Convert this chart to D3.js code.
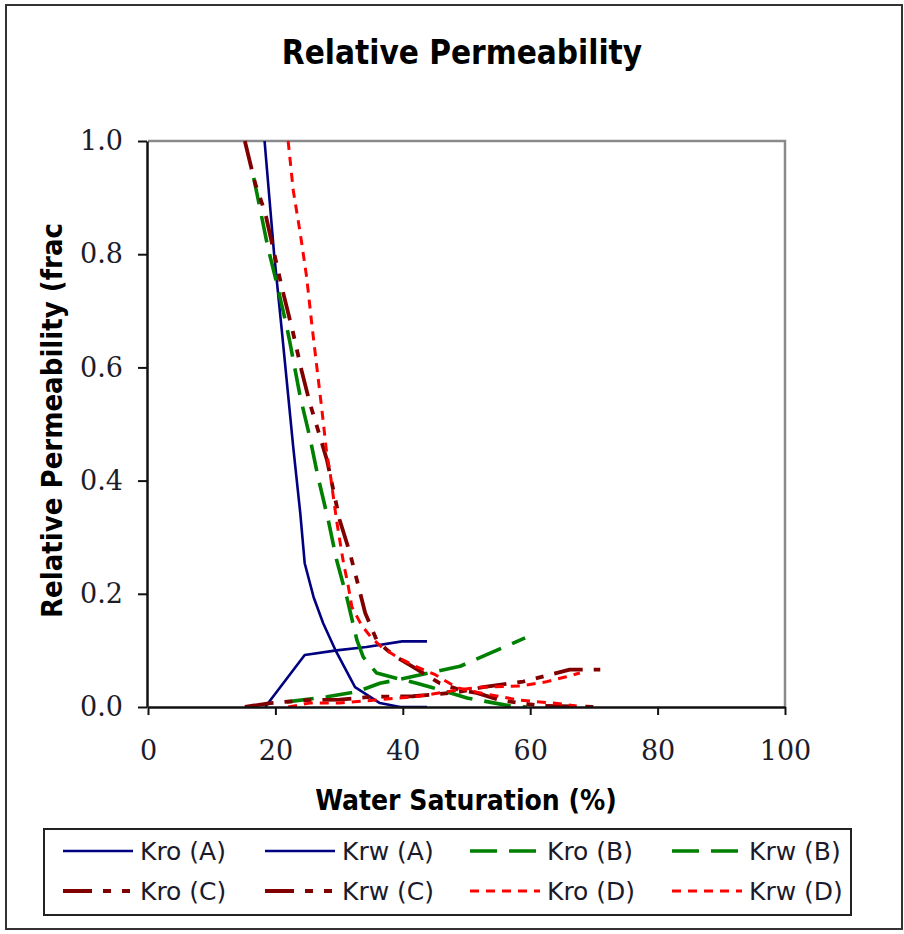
<!DOCTYPE html>
<html>
<head>
<meta charset="utf-8">
<script src="https://cdn.jsdelivr.net/npm/d3@7"></script>
<style>
  html, body { margin: 0; padding: 0; background: #fff; }
  svg { display: block; }
</style>
</head>
<body>
<svg id="chart" width="904" height="934"></svg>
<script>
// ---- Data (Sw in %, kr in fraction) ----
const kroA_sw = [18.3, 19.8, 21.0, 22.8, 23.9, 24.6, 26.0, 27.5, 29.4, 32.5, 36.4, 39.6, 43.8];
const kroA_kr = [1.0, 0.80, 0.666, 0.459, 0.343, 0.254, 0.194, 0.148, 0.101, 0.035, 0.007, 0.0, 0.0];
const krwA_sw = [18.4, 24.6, 29.6, 34.3, 39.9, 43.8];
const krwA_kr = [0.0, 0.092, 0.100, 0.106, 0.116, 0.116];

const kroB_sw = [16.6, 18.8, 20.2, 21.8, 22.3, 23.9, 25.4, 26.7, 28.3, 29.6, 31.2, 32.8, 33.8, 35.9, 39.6, 42.2, 44.7, 50.1, 56.8, 59.5];
const kroB_kr = [0.935, 0.813, 0.749, 0.671, 0.643, 0.548, 0.477, 0.406, 0.330, 0.260, 0.194, 0.118, 0.088, 0.060, 0.049, 0.042, 0.034, 0.016, 0.002, 0.0];
const krwB_sw = [21.8, 28.1, 32.8, 36.4, 39.6, 49.0, 59.2];
const krwB_kr = [0.009, 0.018, 0.027, 0.042, 0.049, 0.072, 0.122];

const kroC_sw = [15.2, 16.8, 18.4, 21.0, 22.8, 24.1, 25.4, 26.7, 28.1, 29.1, 30.1, 31.7, 32.8, 34.1, 35.9, 37.5, 39.0, 41.6, 45.8, 49.0, 51.6, 55.3, 58.4, 62.0, 71.0];
const kroC_kr = [1.0, 0.926, 0.873, 0.742, 0.660, 0.595, 0.537, 0.489, 0.436, 0.383, 0.330, 0.272, 0.224, 0.166, 0.118, 0.101, 0.088, 0.071, 0.042, 0.030, 0.025, 0.012, 0.007, 0.002, 0.0];
const krwC_sw = [15.2, 19.2, 25.0, 30.1, 34.9, 41.6, 45.8, 49.0, 52.6, 58.9, 63.1, 66.2, 71.0];
const krwC_kr = [0.0, 0.007, 0.012, 0.013, 0.018, 0.019, 0.023, 0.027, 0.035, 0.045, 0.057, 0.066, 0.066];

const kroD_sw = [22.0, 22.8, 23.9, 24.9, 25.7, 26.5, 27.3, 28.05, 28.6, 29.1, 29.6, 30.1, 30.7, 31.4, 32.0, 33.5, 35.1, 37.0, 39.3, 42.2, 45.1, 48.5, 52.1, 58.4, 63.6, 67.3];
const kroD_kr = [1.0, 0.913, 0.837, 0.760, 0.678, 0.601, 0.525, 0.449, 0.413, 0.371, 0.330, 0.295, 0.254, 0.216, 0.177, 0.145, 0.122, 0.103, 0.087, 0.071, 0.057, 0.034, 0.025, 0.012, 0.007, 0.002];
const krwD_sw = [22.0, 25.4, 30.1, 35.3, 41.6, 44.7, 48.5, 52.1, 58.4, 62.3, 65.5, 67.8];
const krwD_kr = [0.0, 0.007, 0.007, 0.012, 0.018, 0.023, 0.030, 0.035, 0.037, 0.044, 0.053, 0.060];

const xTicks = [0, 20, 40, 60, 80, 100];
const yTicks = [0.0, 0.2, 0.4, 0.6, 0.8, 1.0];

const seriesNames = ["Kro (A)", "Krw (A)", "Kro (B)", "Krw (B)", "Kro (C)", "Krw (C)", "Kro (D)", "Krw (D)"];

// ---- Styles ----
const styleA = { color: "#000080", width: 2.6, dash: null };
const styleB = { color: "#008000", width: 3.6, dash: "27,12" };
const styleC = { color: "#800000", width: 3.8, dash: "29,11,8,11,8,11" };
const styleD = { color: "#FF0000", width: 3.0, dash: "9,7" };

const series = [
  { name: seriesNames[0], sw: kroA_sw, kr: kroA_kr, s: styleA },
  { name: seriesNames[1], sw: krwA_sw, kr: krwA_kr, s: styleA },
  { name: seriesNames[2], sw: kroB_sw, kr: kroB_kr, s: styleB },
  { name: seriesNames[3], sw: krwB_sw, kr: krwB_kr, s: styleB },
  { name: seriesNames[4], sw: kroC_sw, kr: kroC_kr, s: styleC },
  { name: seriesNames[5], sw: krwC_sw, kr: krwC_kr, s: styleC },
  { name: seriesNames[6], sw: kroD_sw, kr: kroD_kr, s: styleD },
  { name: seriesNames[7], sw: krwD_sw, kr: krwD_kr, s: styleD }
];

const svg = d3.select("#chart");

// outer border
svg.append("rect").attr("x", 6).attr("y", 5).attr("width", 896).attr("height", 924)
  .attr("fill", "#fff").attr("stroke", "#333").attr("stroke-width", 2);

const x = d3.scaleLinear().domain([0, 100]).range([148, 785]);
const y = d3.scaleLinear().domain([0, 1]).range([707, 141]);

// title
svg.append("text").attr("x", 462).attr("y", 64).attr("text-anchor", "middle")
  .attr("font-family", "'DejaVu Sans Condensed', 'DejaVu Sans', sans-serif")
  .attr("font-weight", "bold").attr("font-size", 33).attr("fill", "#000")
  .text("Relative Permeability");

// plot frame top/right (gray)
svg.append("path")
  .attr("d", `M${x(0)},${y(1)} H${x(100)} V${y(0)}`)
  .attr("fill", "none").attr("stroke", "#8a8a8a").attr("stroke-width", 2.5);

// clip for curves
svg.append("clipPath").attr("id", "plotclip").append("rect")
  .attr("x", x(0)).attr("y", y(1) - 1).attr("width", x(100) - x(0)).attr("height", y(0) - y(1) + 2);

const line = d3.line().x(d => x(d[0])).y(d => y(d[1])).curve(d3.curveLinear);
const curves = svg.append("g").attr("clip-path", "url(#plotclip)");
series.forEach(sr => {
  const pts = sr.sw.map((v, i) => [v, sr.kr[i]]);
  curves.append("path").datum(pts).attr("d", line)
    .attr("fill", "none").attr("stroke", sr.s.color).attr("stroke-width", sr.s.width)
    .attr("stroke-dasharray", sr.s.dash).attr("stroke-linejoin", "round");
});

// axes
const tickFont = "'DejaVu Serif', serif";
const yAxis = svg.append("g").attr("transform", `translate(${x(0) - 1},0)`)
  .call(d3.axisLeft(y).tickValues(yTicks).tickFormat(d3.format(".1f")).tickSize(9).tickPadding(15).tickSizeOuter(0));
const xAxis = svg.append("g").attr("transform", `translate(0,${y(0)})`)
  .call(d3.axisBottom(x).tickValues(xTicks).tickFormat(d3.format("d")).tickSize(8).tickPadding(26).tickSizeOuter(0));
[yAxis, xAxis].forEach(g => {
  g.select(".domain").attr("stroke", "#111").attr("stroke-width", 2.5);
  g.selectAll(".tick line").attr("stroke", "#111").attr("stroke-width", 2);
  g.selectAll(".tick text").attr("font-family", tickFont).attr("font-size", 27).attr("fill", "#1c1c2a");
});

// axis titles
svg.append("text").attr("x", 466).attr("y", 810).attr("text-anchor", "middle")
  .attr("font-family", "'DejaVu Sans Condensed', 'DejaVu Sans', sans-serif")
  .attr("font-weight", "bold").attr("font-size", 28).attr("fill", "#000")
  .text("Water Saturation (%)");
svg.append("text").attr("transform", "translate(62,618) rotate(-90)").attr("text-anchor", "start")
  .attr("font-family", "'DejaVu Sans Condensed', 'DejaVu Sans', sans-serif")
  .attr("font-weight", "bold").attr("font-size", 29).attr("fill", "#000")
  .text("Relative Permeability (frac");

// legend
const lg = svg.append("g");
lg.append("rect").attr("x", 44).attr("y", 829).attr("width", 807).attr("height", 86)
  .attr("fill", "#fff").attr("stroke", "#222").attr("stroke-width", 2);
const colX = [63, 265, 470, 672];
const rowY = [851, 891];
series.forEach((sr, i) => {
  const r = Math.floor(i / 4), c = i % 4;
  lg.append("line").attr("x1", colX[c]).attr("x2", colX[c] + 70)
    .attr("y1", rowY[r]).attr("y2", rowY[r])
    .attr("stroke", sr.s.color).attr("stroke-width", sr.s.width)
    .attr("stroke-dasharray", sr.s.dash);
  lg.append("text").attr("x", colX[c] + 77).attr("y", rowY[r]).attr("dy", "0.36em")
    .attr("font-family", "'DejaVu Sans', sans-serif").attr("font-size", 25).attr("fill", "#1a1a2a")
    .text(sr.name);
});
</script>
</body>
</html>
